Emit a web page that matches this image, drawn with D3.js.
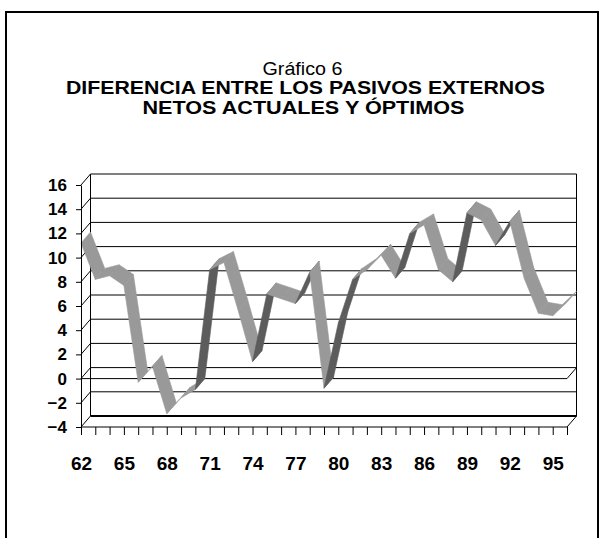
<html>
<head>
<script src="https://d3js.org/d3.v7.min.js"></script>
<style>
  body { margin: 0; background: #fff; }
  svg { display: block; font-family: 'Liberation Sans', Arial, sans-serif; }
</style>
</head>
<body>
<svg id="svg" width="603" height="538"></svg>
<script>
  // data
  var years = [62,63,64,65,66,67,68,69,70,71,72,73,74,75,76,77,78,79,80,
               81,82,83,84,85,86,87,88,89,90,91,92,93,94,95,96];
  var values = [11.2, 8.2, 8.5, 7.7, -0.3, 1.0, -2.9, -1.6, -0.9, 9.0,
                9.6, 5.6, 1.4, 7.0, 6.6, 6.2, 8.8, -0.8, 4.6, 8.2,
                9.0, 10.2, 8.3, 12.0, 12.7, 9.0, 8.0, 13.7, 13.1, 11.0,
                13.0, 8.3, 5.4, 5.2, 6.3];
  var yTicks = [-4,-2,0,2,4,6,8,10,12,14,16];
  var xLabels = [62,65,68,71,74,77,80,83,86,89,92,95];
  var titleLines = ["Gráfico 6", "DIFERENCIA ENTRE LOS PASIVOS EXTERNOS", "NETOS ACTUALES Y ÓPTIMOS"];

  var svg = d3.select("svg");
  var width = +svg.attr("width");

  var x = d3.scalePoint().domain(years).range([81, 567]);
  var y = d3.scaleLinear().domain([-4, 16]).range([427, 185]);
  var ddx = 9.5, ddy = -11;   // depth of the 3d box

  // outer frame
  svg.append("rect").attr("x", 6).attr("y", 12).attr("width", 592).attr("height", 540)
     .attr("fill", "none").attr("stroke", "#000").attr("stroke-width", 2);

  // titles (the original font is a bit wider than Arial, so stretch it)
  svg.append("text").attr("x", width/2 + 1).attr("y", 74.5).attr("text-anchor", "middle")
     .attr("font-size", 18.5).attr("textLength", 80).attr("lengthAdjust", "spacingAndGlyphs")
     .text(titleLines[0]);
  svg.append("text").attr("x", width/2 + 4).attr("y", 94).attr("text-anchor", "middle")
     .attr("font-size", 18.5).attr("font-weight", "bold")
     .attr("textLength", 479).attr("lengthAdjust", "spacingAndGlyphs").text(titleLines[1]);
  svg.append("text").attr("x", width/2 + 2).attr("y", 113.5).attr("text-anchor", "middle")
     .attr("font-size", 18.5).attr("font-weight", "bold")
     .attr("textLength", 322).attr("lengthAdjust", "spacingAndGlyphs").text(titleLines[2]);

  var x0 = x(years[0]), x1 = x(years[years.length-1]);

  // back wall gridlines
  svg.append("g").selectAll("line").data(yTicks).enter().append("line")
     .attr("x1", x0 + ddx).attr("x2", x1 + ddx)
     .attr("y1", function(d){ return y(d) + ddy; }).attr("y2", function(d){ return y(d) + ddy; })
     .attr("stroke", "#000").attr("stroke-width", function(d){ return d == -4 ? 2 : 1; });
  // back wall sides
  svg.append("line").attr("x1", x0 + ddx).attr("x2", x0 + ddx)
     .attr("y1", y(16) + ddy).attr("y2", y(-4) + ddy).attr("stroke", "#000");
  svg.append("line").attr("x1", x1 + ddx).attr("x2", x1 + ddx)
     .attr("y1", y(16) + ddy).attr("y2", y(-4) + ddy).attr("stroke", "#000");
  // left side wall slants
  svg.append("g").selectAll("line").data(yTicks).enter().append("line")
     .attr("x1", x0).attr("x2", x0 + ddx)
     .attr("y1", function(d){ return y(d); }).attr("y2", function(d){ return y(d) + ddy; })
     .attr("stroke", "#000");
  // zero plane and floor front edges
  [0, -4].forEach(function(v){
    svg.append("polyline")
       .attr("points", [[x0, y(v)], [x1, y(v)], [x1 + ddx, y(v) + ddy]].join(" "))
       .attr("fill", "none").attr("stroke", "#000");
  });

  // ribbon
  var pts = years.map(function(yr, i){ return [x(yr), y(values[i])]; });
  var segs = d3.pairs(pts);
  function shade(s){
    var c = (s[1][0] - s[0][0]) * ddy - (s[1][1] - s[0][1]) * ddx;
    return c < 0 ? "#999999" : "#5c5c5c";
  }
  svg.append("g").selectAll("path").data(segs).enter().append("path")
     .attr("d", function(s){
       return "M" + s[0] + "L" + s[1] + "L" + [s[1][0] + ddx, s[1][1] + ddy]
            + "L" + [s[0][0] + ddx, s[0][1] + ddy] + "Z";
     })
     .attr("fill", shade).attr("stroke", shade)
     .attr("stroke-width", 0.6).attr("stroke-linejoin", "round");

  // y axis
  var yAxis = svg.append("g").attr("transform", "translate(" + x0 + ",0)")
     .call(d3.axisLeft(y).tickValues(yTicks).tickSize(5).tickSizeOuter(0).tickPadding(9));
  yAxis.selectAll("text").attr("font-size", 17).attr("font-weight", "bold")
     .attr("font-family", "'Liberation Sans', Arial, sans-serif").attr("fill", "#000");
  yAxis.select(".domain").attr("stroke", "#000");

  // x axis
  var xAxis = svg.append("g").attr("transform", "translate(0," + y(-4) + ")")
     .call(d3.axisBottom(x).tickSize(8).tickSizeOuter(0).tickPadding(22)
       .tickFormat(function(d){ return xLabels.indexOf(d) >= 0 ? d : ""; }));
  xAxis.selectAll("text").attr("font-size", 19).attr("font-weight", "bold")
     .attr("font-family", "'Liberation Sans', Arial, sans-serif").attr("fill", "#000");
  xAxis.select(".domain").remove();
</script>
</body>
</html>
